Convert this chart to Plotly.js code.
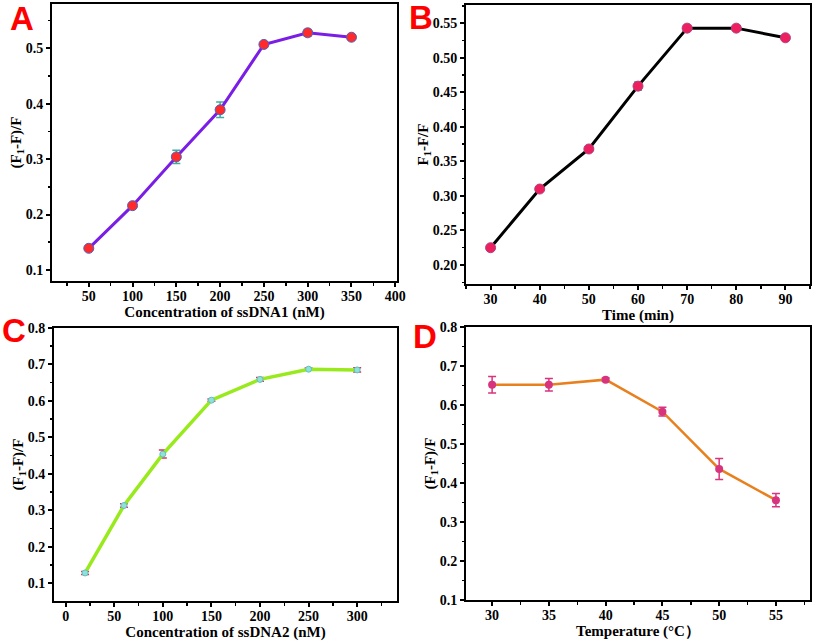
<!DOCTYPE html>
<html>
<head>
<meta charset="utf-8">
<script src="https://cdn.plot.ly/plotly-3.0.1.min.js"></script>
<style>
html,body{margin:0;padding:0;background:#fff;}
#chart{width:813px;height:644px;}
</style>
</head>
<body>
<div id="chart"></div>
<script>
// Panel A: ssDNA1 concentration
const concA = [50, 100, 150, 200, 250, 300, 350];
const valA = [0.139, 0.216, 0.304, 0.389, 0.507, 0.528, 0.520];
const errA = [0.002, 0.003, 0.012, 0.014, 0.005, 0.006, 0.004];
// Panel B: time
const timeB = [30, 40, 50, 60, 70, 80, 90];
const valB = [0.225, 0.310, 0.368, 0.459, 0.543, 0.543, 0.529];
const errB = [0.002, 0.003, 0.002, 0.006, 0.002, 0.002, 0.002];
// Panel C: ssDNA2 concentration
const concC = [20, 60, 100, 150, 200, 250, 300];
const valC = [0.128, 0.313, 0.454, 0.602, 0.659, 0.687, 0.685];
const errC = [0.004, 0.005, 0.011, 0.003, 0.005, 0.003, 0.006];
// Panel D: temperature
const tempD = [30, 35, 40, 45, 50, 55];
const valD = [0.652, 0.652, 0.665, 0.583, 0.436, 0.356];
const errD = [0.021, 0.016, 0.004, 0.011, 0.027, 0.017];

const SERIF = "Liberation Serif";

function ax(domain, range, dtick, minorDtick, anchor, title, extra) {
  return Object.assign({
    domain: domain, range: range, dtick: dtick, tick0: 0,
    showgrid: false, zeroline: false,
    showline: true, mirror: true, linecolor: "#000", linewidth: 2,
    ticks: "outside", ticklen: 4, tickwidth: 2, tickcolor: "#000",
    minor: {ticks: "outside", ticklen: 2.5, tickwidth: 1.5, tickcolor: "#000", dtick: minorDtick, showgrid: false},
    tickfont: {family: SERIF, size: 14, color: "#000", weight: "bold"},
    anchor: anchor,
    title: {text: "<b>" + title + "</b>", font: {family: SERIF, size: 15, color: "#000"}, standoff: 0}
  }, extra || {});
}

const traces = [
  {x: concA, y: valA, xaxis: "x", yaxis: "y", type: "scatter", mode: "lines+markers",
   line: {color: "#7a1ee6", width: 3},
   marker: {color: "#ff2a2a", size: 10, line: {color: "#5060c0", width: 1}},
   error_y: {type: "data", array: errA, visible: true, color: "#3fae9e", thickness: 1.5, width: 4}},
  {x: timeB, y: valB, xaxis: "x2", yaxis: "y2", type: "scatter", mode: "lines+markers",
   line: {color: "#000", width: 3},
   marker: {color: "#ee1f5e", size: 10, line: {color: "#b04080", width: 1}},
   error_y: {type: "data", array: errB, visible: true, color: "#40b0a0", thickness: 1.5, width: 4}},
  {x: concC, y: valC, xaxis: "x3", yaxis: "y3", type: "scatter", mode: "lines+markers",
   line: {color: "#99ea1c", width: 3.5},
   marker: {color: "#8fe0d8", size: 6, line: {color: "#60c0c0", width: 1}},
   error_y: {type: "data", array: errC, visible: true, color: "#e0305a", thickness: 1.5, width: 4}},
  {x: tempD, y: valD, xaxis: "x4", yaxis: "y4", type: "scatter", mode: "lines+markers",
   line: {color: "#e8801e", width: 2.5},
   marker: {color: "#d8347e", size: 8},
   error_y: {type: "data", array: errD, visible: true, color: "#d8347e", thickness: 1.5, width: 4}}
];

function letter(t, x, y) {
  return {text: "<b>" + t + "</b>", xref: "paper", yref: "paper", x: x / 813, y: 1 - y / 644,
          xanchor: "center", yanchor: "middle", showarrow: false,
          font: {family: "Liberation Sans", size: 33, color: "#ff0000"}};
}

const xs = {ticklabelstandoff: -3};

const layout = {
  width: 813, height: 644,
  margin: {l: 0, r: 0, t: 0, b: 0},
  paper_bgcolor: "#fff", plot_bgcolor: "#fff",
  showlegend: false,
  font: {family: SERIF, color: "#000", size: 14},
  xaxis: ax([52/813, 397/813], [8, 402], 50, 25, "y", "Concentration of ssDNA1 (nM)", xs),
  yaxis: ax([1 - 281/644, 1 - 4/644], [0.08, 0.58], 0.1, 0.05, "x", "(F<sub>1</sub>-F)/F", {tickformat: ".1f"}),
  xaxis2: ax([466/813, 810/813], [25, 95], 10, 5, "y2", "Time (min)", xs),
  yaxis2: ax([1 - 284/644, 1 - 5/644], [0.1725, 0.5765], 0.05, 0.025, "x2", "F<sub>1</sub>-F/F", {tickformat: ".2f"}),
  xaxis3: ax([54/813, 397/813], [-12, 341], 50, 25, "y3", "Concentration of ssDNA2 (nM)", xs),
  yaxis3: ax([1 - 601/644, 1 - 328/644], [0.051, 0.8], 0.1, 0.05, "x3", "(F<sub>1</sub>-F)/F", {tickformat: ".1f"}),
  xaxis4: ax([466/813, 810/813], [27.7, 58], 5, 2.5, "y4", "Temperature (°C）", xs),
  yaxis4: ax([1 - 600/644, 1 - 327/644], [0.1, 0.8], 0.1, 0.05, "x4", "(F<sub>1</sub>-F)/F", {tickformat: ".1f"}),
  annotations: [
    letter("A", 22, 19),
    letter("B", 421, 17),
    letter("C", 14, 330),
    letter("D", 425, 336)
  ]
};

Plotly.newPlot("chart", traces, layout, {displayModeBar: false, staticPlot: true});
</script>
</body>
</html>
